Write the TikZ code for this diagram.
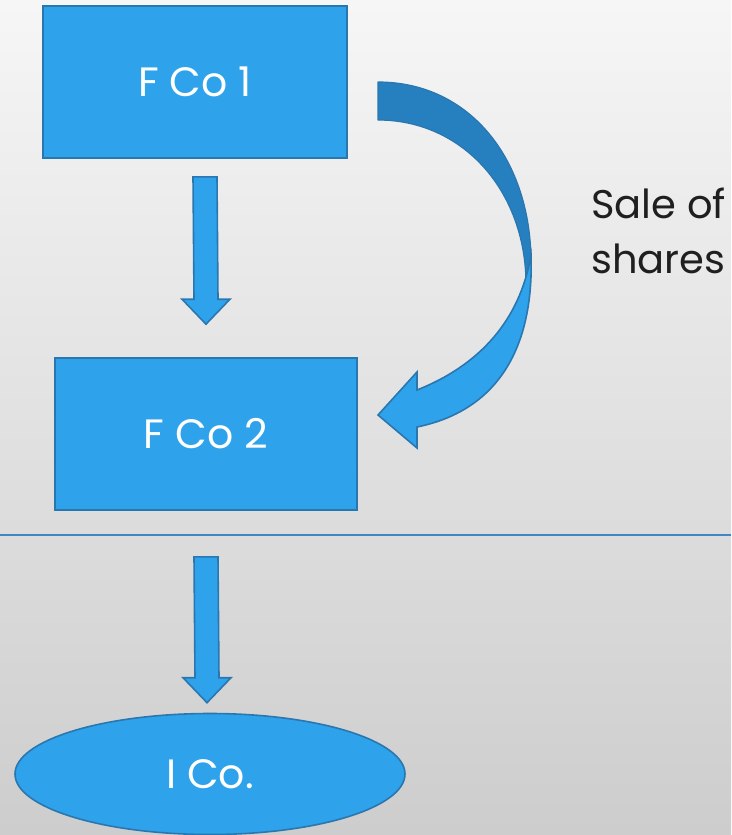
\documentclass[tikz,border=0pt]{standalone}
\usepackage{fontspec}
\setmainfont{Poppins}
\usetikzlibrary{shapes.geometric,calc}
\definecolor{boxF}{HTML}{2EA2EB}
\definecolor{boxB}{HTML}{2A77B0}
\definecolor{backF}{HTML}{2680BF}
\definecolor{bgTop}{HTML}{F6F6F6}
\definecolor{bgBot}{HTML}{CDCDCD}
\definecolor{lineB}{HTML}{3F88C5}
\tikzset{
 entity/.style={draw=boxB, fill=boxF, line width=1.6pt, text=white,
                font=\fontsize{41}{48}\selectfont},
 company/.style={entity, rectangle, minimum width=302, minimum height=152},
 blockarr/.style={draw=boxB, fill=boxF, line width=1.6pt, line join=miter},
}
% straight block arrow pointing down, from top point #1 to tip #2
\newcommand\blockdown[2]{%
 \draw[blockarr] ($(#1)+(-12,0)$) -- ($(#1)+(12,0)$) -- ($(#2)+(12,-25)$)
  -- ($(#2)+(24,-25)$) -- (#2) -- ($(#2)+(-24,-25)$) -- ($(#2)+(-12,-25)$) -- cycle;}

\begin{document}
\begin{tikzpicture}[x=1pt, y=-1pt]
% background
\shade[top color=bgTop, bottom color=bgBot] (0,0) rectangle (731,835);
\useasboundingbox (0,0) rectangle (731,835);
% companies
\node[company, minimum width=304] (fco1) at (195,82) {F Co 1};
\node[company] (fco2) at (206,434) {F Co 2};
\node[entity, ellipse, minimum width=390, minimum height=121] (ico) at (210,774) {I Co.};
% separator
\coordinate (sepL) at (0,535);
\coordinate (sepR) at (731,535);
\draw[lineB, line width=1.5pt] (sepL) -- (sepR);
% down arrows
\coordinate (a1top) at ($(fco1.south)+(10,18)$);
\coordinate (a1tip) at ($(fco2.north)+(0,-33)$);
\coordinate (a2top) at ($(fco2.south)+(0,46)$);
\coordinate (a2tip) at ($(ico.north)+(-3,-10)$);
\blockdown{a1top}{a1tip}
\blockdown{a2top}{a2tip}
% curved arrow, back face
\fill[backF, draw=boxB, line width=1.2pt, line join=round]
 (378,82) .. controls (470,82) and (532,160) .. (531,265) -- (526,285)
 .. controls (526,190) and (462,120) .. (378,120) -- cycle;
% curved arrow, front face with head
\fill[boxF, draw=boxB, line width=1.6pt, line join=miter]
 (531,255) .. controls (534,345) and (500,410) .. (417,427)
 -- (417,448) -- (378,415) -- (417,372) -- (417,390)
 .. controls (480,365) and (520,320) .. (531,255) -- cycle;
% label
\node[anchor=north west, align=left, inner sep=0pt, text=black!88,
      font=\fontsize{40}{55}\selectfont] (sale) at (591,188) {Sale of\\shares};
\end{tikzpicture}
\end{document}
